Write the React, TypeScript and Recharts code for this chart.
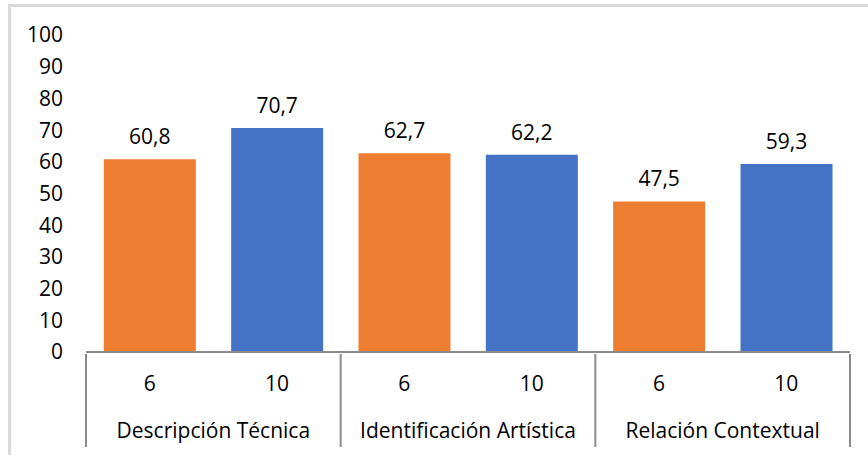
import { BarChart, Bar, XAxis, YAxis, Cell, LabelList } from "recharts";

const groups = ["Descripción Técnica", "Identificación Artística", "Relación Contextual"];
const grades = ["6", "10"];
const scores = [60.8, 70.7, 62.7, 62.2, 47.5, 59.3];
const yTicks = [0, 10, 20, 30, 40, 50, 60, 70, 80, 90, 100];

const GRADE_COLORS: Record<string, string> = {
  "6": "#ED7D31",
  "10": "#4472C4",
};

const FONT = "'Open Sans', Lato, sans-serif";
const FS = 21;
const W = 868;
const H = 455;
const LEFT = 86;
const RIGHT = 18;
const TOP = 35;
const AXIS_H = 103;
const STEP = (W - LEFT - RIGHT) / scores.length;

const data = scores.map((v, i) => ({
  name: `${groups[Math.floor(i / grades.length)]}-${grades[i % grades.length]}`,
  grade: grades[i % grades.length],
  group: groups[Math.floor(i / grades.length)],
  value: v,
}));

function CategoryTick(props: any) {
  const { x, y, index } = props;
  const row = data[index];
  if (!row) return null;
  const lines = [];
  if (index === 0) lines.push(x - STEP / 2);
  if (index % 2 === 1) lines.push(x + STEP / 2);
  return (
    <g>
      <text x={x} y={y + 31} textAnchor="middle" dominantBaseline="middle" fontSize={FS} fill="#000" fontFamily={FONT}>
        {row.grade}
      </text>
      {index % 2 === 0 && (
        <text x={x + STEP / 2} y={y + 78} textAnchor="middle" dominantBaseline="middle" fontSize={FS} fill="#000" fontFamily={FONT}>
          {row.group}
        </text>
      )}
      {lines.map((lx) => (
        <line key={lx} x1={lx} x2={lx} y1={y} y2={y + 93} stroke="#8c8c8c" strokeWidth={2} />
      ))}
    </g>
  );
}

export default function App() {
  return (
    <div style={{ position: "absolute", left: 0, top: 0, width: W, height: H, background: "#fff", overflow: "hidden" }}>
      <div
        style={{
          position: "absolute",
          left: 8,
          top: 4,
          width: W,
          height: H,
          borderTop: "3px solid #d9d9d9",
          borderLeft: "3px solid #d9d9d9",
        }}
      />
      <div style={{ position: "absolute", left: 0, top: 0 }}>
        <BarChart width={W} height={H} data={data} margin={{ top: TOP, right: RIGHT, bottom: 0, left: 0 }} barCategoryGap="14%">
          <XAxis
            dataKey="name"
            interval={0}
            height={AXIS_H}
            tickLine={false}
            tickSize={0}
            axisLine={{ stroke: "#8c8c8c", strokeWidth: 2 }}
            tick={<CategoryTick />}
          />
          <YAxis
            domain={[0, 100]}
            ticks={yTicks}
            interval={0}
            width={LEFT}
            axisLine={false}
            tickLine={false}
            tickSize={0}
            tickMargin={23}
            tick={{ fontSize: FS, fill: "#000", fontFamily: FONT }}
          />
          <Bar dataKey="value" isAnimationActive={false}>
            {data.map((d) => (
              <Cell key={d.name} fill={GRADE_COLORS[d.grade]} />
            ))}
            <LabelList
              dataKey="value"
              position="top"
              offset={15}
              formatter={(v: any) => Number(v).toFixed(1).replace(".", ",")}
              style={{ fontSize: FS, fill: "#000", fontFamily: FONT }}
            />
          </Bar>
        </BarChart>
      </div>
    </div>
  );
}
